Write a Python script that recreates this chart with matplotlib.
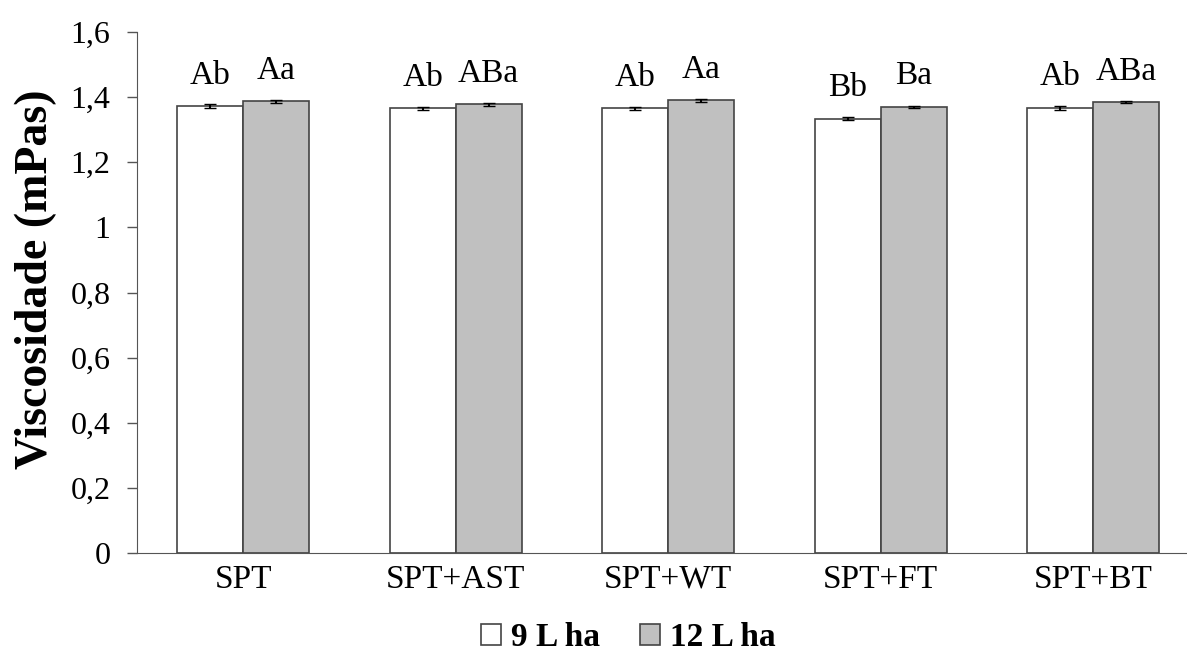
import numpy as np
import matplotlib.pyplot as plt
from matplotlib.ticker import FuncFormatter

plt.rcParams['font.family'] = ['Liberation Serif', 'DejaVu Serif']

# dados: viscosidade por tratamento e volume de calda
categorias = ['SPT', 'SPT+AST', 'SPT+WT', 'SPT+FT', 'SPT+BT']
visc_9 = [1.372, 1.366, 1.366, 1.334, 1.367]
visc_12 = [1.387, 1.378, 1.390, 1.370, 1.384]
erro_9 = [0.006, 0.005, 0.005, 0.004, 0.006]
erro_12 = [0.004, 0.004, 0.004, 0.003, 0.003]
letras_9 = ['Ab', 'Ab', 'Ab', 'Bb', 'Ab']
letras_12 = ['Aa', 'ABa', 'Aa', 'Ba', 'ABa']

x = np.arange(len(categorias))
w = 0.31

fig = plt.figure(figsize=(11.87, 6.57), dpi=100)
ax = fig.add_axes([137 / 1187, 1 - 553 / 657, 1050 / 1187, 521 / 657])

b1 = ax.bar(x - w / 2, visc_9, w, color='white', edgecolor='#444444', linewidth=1.2,
            yerr=erro_9, error_kw=dict(ecolor='black', capsize=4, elinewidth=1.5), label='9 L ha')
b2 = ax.bar(x + w / 2, visc_12, w, color='#c0c0c0', edgecolor='#444444', linewidth=1.2,
            yerr=erro_12, error_kw=dict(ecolor='black', capsize=4, elinewidth=1.5), label='12 L ha')

for i in range(len(categorias)):
    ax.text(x[i] - w / 2, visc_9[i] + 0.095, letras_9[i], ha='center', va='center', fontsize=24)
    ax.text(x[i] + w / 2, visc_12[i] + 0.095, letras_12[i], ha='center', va='center', fontsize=24)

ax.set_xlim(-0.5, -0.5 + 1050 / 212.5)
ax.set_ylim(0, 1.6)
ax.set_yticks(np.arange(0, 1.61, 0.2))
ax.yaxis.set_major_formatter(FuncFormatter(lambda v, p: ('%g' % round(v, 1)).replace('.', ',')))
ax.set_xticks(x)
ax.set_xticklabels(categorias)
ax.tick_params(axis='y', labelsize=23, length=7, width=1, color='#555555', pad=12)
ax.tick_params(axis='x', labelsize=24, length=0, pad=8)
ax.spines['top'].set_visible(False)
ax.spines['right'].set_visible(False)
ax.spines['left'].set_color('#555555')
ax.spines['bottom'].set_color('#555555')
ax.set_ylabel('Viscosidade (mPas)', fontsize=33, fontweight='bold')
ax.yaxis.set_label_coords(-0.076, 0.525)

fig.legend(handles=[b1, b2], loc='center', bbox_to_anchor=(628 / 1187, 1 - 638 / 657), ncol=2,
           frameon=False, prop={'size': 24, 'weight': 'bold'}, handlelength=0.6, handleheight=0.6,
           handletextpad=0.3, columnspacing=1.2, borderpad=0)

fig.savefig('out.png', dpi=100)
